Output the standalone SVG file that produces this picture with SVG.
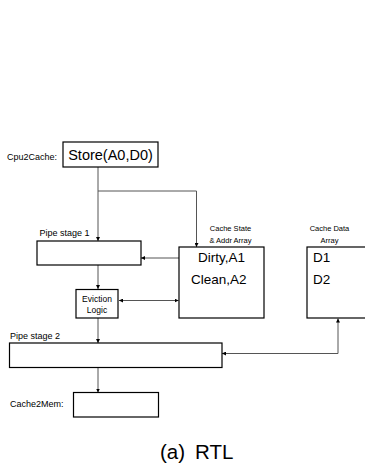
<svg xmlns="http://www.w3.org/2000/svg" width="365" height="466" viewBox="0 0 365 466">
<defs>
<marker id="ah" viewBox="0 0 6 6" refX="6" refY="3" markerWidth="4" markerHeight="4" orient="auto-start-reverse" markerUnits="userSpaceOnUse">
<path d="M0,0 L6,3 L0,6 z" fill="#000"/>
</marker>
</defs>
<style>
.box{fill:#fff;stroke:#000;stroke-width:1.2}
.t{font-family:"Liberation Sans",Arial,sans-serif;fill:#000}
.c{fill:none;stroke:#555;stroke-width:1}
</style>
<rect width="365" height="466" fill="#fff"/>
<g id="connectors">
<path class="c" d="M98,167 V241" marker-end="url(#ah)"/>
<path class="c" d="M98,191 H196.5 V247" marker-end="url(#ah)"/>
<path class="c" d="M179,258 H141" marker-end="url(#ah)"/>
<path class="c" d="M98,265 V289" marker-end="url(#ah)"/>
<path class="c" d="M119,300.5 H178.5" marker-start="url(#ah)" marker-end="url(#ah)"/>
<path class="c" d="M98,318 V343" marker-end="url(#ah)"/>
<path class="c" d="M338,318.5 V353.5 H222" marker-start="url(#ah)" marker-end="url(#ah)"/>
<path class="c" d="M98,368 V392.5" marker-end="url(#ah)"/>
</g>
<g id="cpu2cache">
<text class="t" x="7" y="160" font-size="9">Cpu2Cache:</text>
<rect class="box" x="63" y="142" width="95" height="25"/>
<text class="t" x="110.5" y="160" font-size="14.5" text-anchor="middle">Store(A0,D0)</text>
</g>
<g id="pipe1">
<text class="t" x="39.5" y="236" font-size="9">Pipe stage 1</text>
<rect class="box" x="37" y="241" width="104" height="24"/>
</g>
<g id="cachestate">
<text class="t" x="230.5" y="231" font-size="7.5" text-anchor="middle">Cache State</text>
<text class="t" x="230.5" y="243" font-size="7.5" text-anchor="middle">&amp; Addr Array</text>
<rect class="box" x="179" y="247" width="85" height="71"/>
<text class="t" x="198" y="262" font-size="13.5">Dirty,A1</text>
<text class="t" x="191" y="284" font-size="13.5">Clean,A2</text>
</g>
<g id="cachedata">
<text class="t" x="329.5" y="231" font-size="7.5" text-anchor="middle">Cache Data</text>
<text class="t" x="329.5" y="243" font-size="7.5" text-anchor="middle">Array</text>
<rect class="box" x="307" y="247" width="62" height="71"/>
<text class="t" x="313" y="262" font-size="13.5">D1</text>
<text class="t" x="313" y="284" font-size="13.5">D2</text>
</g>
<g id="eviction">
<rect class="box" x="76" y="289.5" width="42" height="28.5"/>
<text class="t" x="97" y="302" font-size="8.5" text-anchor="middle">Eviction</text>
<text class="t" x="97" y="313" font-size="8.5" text-anchor="middle">Logic</text>
</g>
<g id="pipe2">
<text class="t" x="10" y="339" font-size="9">Pipe stage 2</text>
<rect class="box" x="9.5" y="343" width="212.5" height="24.5"/>
</g>
<g id="cache2mem">
<text class="t" x="10" y="407" font-size="9">Cache2Mem:</text>
<rect class="box" x="73.5" y="392.5" width="85" height="24.5"/>
</g>
<g id="caption">
<text class="t" x="160" y="459" font-size="20.5">(a)</text>
<text class="t" x="195" y="459" font-size="20.5">RTL</text>
</g>
</svg>
